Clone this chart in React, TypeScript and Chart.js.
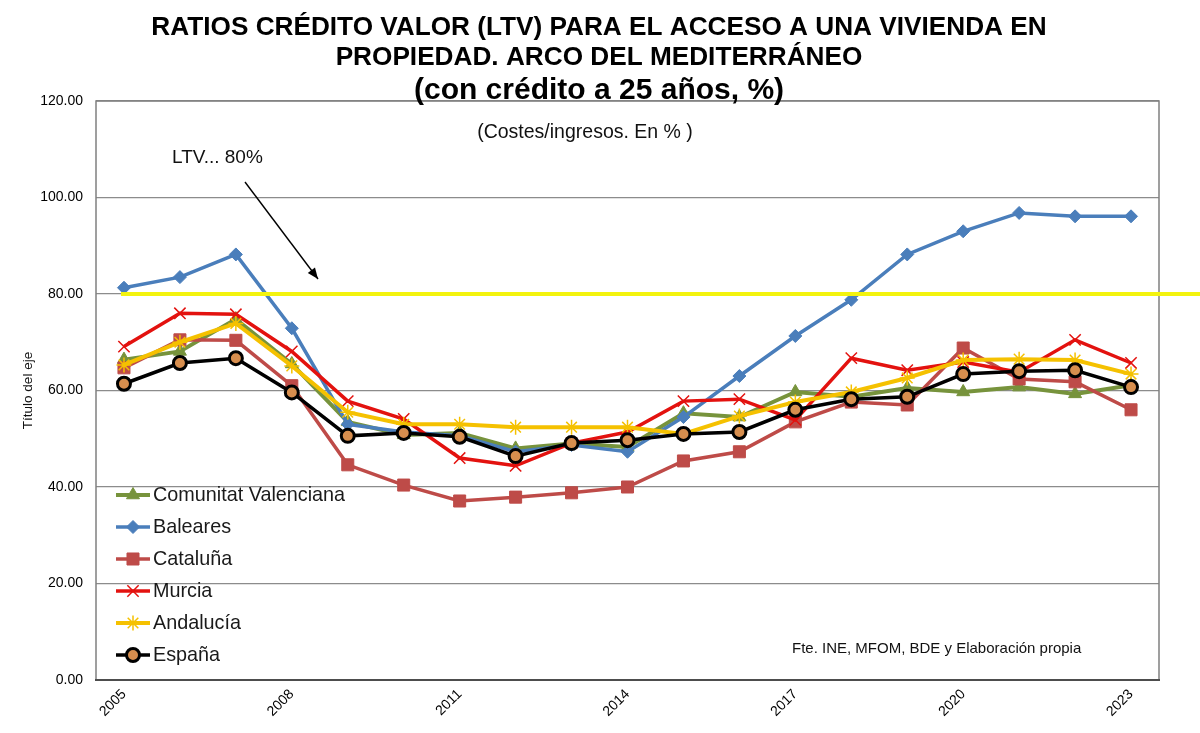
import React, { useEffect, useRef } from 'react';
import { Chart, registerables } from 'chart.js';
import { drawPoint } from 'chart.js/helpers';

Chart.register(...registerables);

const FONT = "'Liberation Sans', Arial, sans-serif";

const YEARS = ['2005', '2006', '2007', '2008', '2009', '2010', '2011', '2012', '2013', '2014', '2015', '2016', '2017', '2018', '2019', '2020', '2021', '2022', '2023'];
const LABEL_EVERY = 3;

const COMUNITAT_VALENCIANA = [66.4, 68.1, 74.8, 65.5, 53.5, 50.8, 51.2, 48.0, 49.0, 48.3, 55.3, 54.5, 59.7, 58.7, 60.5, 59.7, 60.7, 59.3, 61.1];
const BALEARES = [81.3, 83.5, 88.2, 72.9, 53.0, 51.4, 50.6, 47.3, 48.7, 47.3, 54.5, 63.0, 71.3, 78.8, 88.2, 93.0, 96.8, 96.1, 96.1];
const CATALUNA = [64.7, 70.5, 70.4, 61.0, 44.6, 40.4, 37.1, 37.9, 38.8, 40.0, 45.4, 47.3, 53.5, 57.6, 57.0, 68.8, 62.4, 61.8, 56.0];
const MURCIA = [69.1, 76.0, 75.8, 68.1, 57.8, 54.1, 46.0, 44.4, 49.1, 51.4, 57.8, 58.2, 53.9, 66.7, 64.2, 65.9, 63.8, 70.5, 65.7];
const ANDALUCIA = [65.3, 70.0, 73.9, 65.1, 55.5, 53.0, 53.0, 52.4, 52.4, 52.4, 51.0, 54.7, 57.6, 59.7, 62.6, 66.3, 66.5, 66.3, 63.4];
const ESPANA = [61.4, 65.7, 66.7, 59.6, 50.6, 51.2, 50.4, 46.4, 49.1, 49.7, 51.0, 51.4, 56.0, 58.2, 58.7, 63.4, 64.0, 64.2, 60.7];

const LTV_LIMIT = 80;

const Y_MIN = 0;
const Y_MAX = 120;
const Y_STEP = 20;

const TITLE_LINES = [
  'RATIOS CRÉDITO VALOR (LTV) PARA EL ACCESO A UNA VIVIENDA EN',
  'PROPIEDAD. ARCO DEL MEDITERRÁNEO',
  '(con crédito a 25 años, %)',
];
const SUBTITLE = '(Costes/ingresos. En % )';
const LTV_NOTE = 'LTV... 80%';
const SOURCE = 'Fte. INE, MFOM, BDE y Elaboración propia';
const Y_TITLE = 'Título del eje';

const SERIES = [
  { label: 'Comunitat Valenciana', data: COMUNITAT_VALENCIANA, color: '#77933C', fill: '#77933C', width: 4, pointStyle: 'triangle', radius: 7.5, pointBorderWidth: 1 },
  { label: 'Baleares', data: BALEARES, color: '#4A7EBB', fill: '#4A7EBB', width: 3.5, pointStyle: 'rectRot', radius: 6.5, pointBorderWidth: 1 },
  { label: 'Cataluña', data: CATALUNA, color: '#BE4B48', fill: '#BE4B48', width: 3.5, pointStyle: 'rect', radius: 8.5, pointBorderWidth: 1 },
  { label: 'Murcia', data: MURCIA, color: '#E3120F', fill: '#E3120F', width: 3.5, pointStyle: 'crossRot', radius: 8, pointBorderWidth: 1.5 },
  { label: 'Andalucía', data: ANDALUCIA, color: '#F5C100', fill: '#F5C100', width: 4, pointStyle: 'star', radius: 7.5, pointBorderWidth: 1.5 },
  { label: 'España', data: ESPANA, color: '#000000', fill: '#D78E4E', width: 3.5, pointStyle: 'circle', radius: 6.5, pointBorderWidth: 3 },
];

const overlayPlugin = {
  id: 'overlay',
  beforeDatasetsDraw(chart: any) {
    const { ctx, chartArea: a } = chart;
    ctx.save();
    ctx.strokeStyle = '#808080';
    ctx.lineWidth = 1.5;
    ctx.beginPath();
    ctx.moveTo(a.left, a.bottom);
    ctx.lineTo(a.left, a.top);
    ctx.lineTo(a.right, a.top);
    ctx.lineTo(a.right, a.bottom);
    ctx.stroke();
    ctx.strokeStyle = '#4d4d4d';
    ctx.lineWidth = 2;
    ctx.beginPath();
    ctx.moveTo(a.left - 1, a.bottom);
    ctx.lineTo(a.right + 1, a.bottom);
    ctx.stroke();
    ctx.restore();
  },
  afterDatasetsDraw(chart: any) {
    const { ctx, scales } = chart;
    const yPix = scales.y.getPixelForValue(LTV_LIMIT);
    const xStart = scales.x.getPixelForValue(0) - 3;
    ctx.save();
    ctx.strokeStyle = '#F3F30E';
    ctx.lineWidth = 4;
    ctx.beginPath();
    ctx.moveTo(xStart, yPix);
    ctx.lineTo(chart.width, yPix);
    ctx.stroke();
    ctx.restore();
  },
  afterDraw(chart: any) {
    const { ctx, chartArea: a } = chart;
    const cx = chart.width / 2 - 1;
    ctx.save();
    ctx.fillStyle = '#000';
    ctx.textAlign = 'center';
    ctx.textBaseline = 'middle';
    ctx.font = `bold 26.2px ${FONT}`;
    ctx.fillText(TITLE_LINES[0], cx, 28);
    ctx.fillText(TITLE_LINES[1], cx, 58);
    ctx.font = `bold 30px ${FONT}`;
    ctx.fillText(TITLE_LINES[2], cx, 91);

    ctx.fillStyle = '#111';
    ctx.font = `19.5px ${FONT}`;
    ctx.fillText(SUBTITLE, 585, 133);

    ctx.textAlign = 'left';
    ctx.font = `19px ${FONT}`;
    ctx.fillText(LTV_NOTE, 172, 158);

    // arrow
    const x1 = 245, y1 = 182, x2 = 318, y2 = 279;
    ctx.strokeStyle = '#000';
    ctx.lineWidth = 1.4;
    ctx.beginPath();
    ctx.moveTo(x1, y1);
    ctx.lineTo(x2, y2);
    ctx.stroke();
    const ang = Math.atan2(y2 - y1, x2 - x1);
    const hl = 11, hw = 4.5;
    ctx.beginPath();
    ctx.moveTo(x2, y2);
    ctx.lineTo(x2 - hl * Math.cos(ang) + hw * Math.sin(ang), y2 - hl * Math.sin(ang) - hw * Math.cos(ang));
    ctx.lineTo(x2 - hl * Math.cos(ang) - hw * Math.sin(ang), y2 - hl * Math.sin(ang) + hw * Math.cos(ang));
    ctx.closePath();
    ctx.fillStyle = '#000';
    ctx.fill();

    // source
    ctx.fillStyle = '#111';
    ctx.font = `15px ${FONT}`;
    ctx.textAlign = 'left';
    ctx.fillText(SOURCE, 792, 649);

    // y title
    ctx.save();
    ctx.translate(28, (a.top + a.bottom) / 2);
    ctx.rotate(-Math.PI / 2);
    ctx.textAlign = 'center';
    ctx.font = `13.5px ${FONT}`;
    ctx.fillStyle = '#111';
    ctx.fillText(Y_TITLE, 0, 0);
    ctx.restore();

    // legend
    const n = SERIES.length;
    SERIES.forEach((s, i) => {
      const yy = a.bottom - 25 - (n - 1 - i) * 32;
      const lx = a.left + 20;
      ctx.strokeStyle = s.color;
      ctx.lineWidth = s.width;
      ctx.beginPath();
      ctx.moveTo(lx, yy);
      ctx.lineTo(lx + 34, yy);
      ctx.stroke();
      ctx.fillStyle = s.fill;
      ctx.strokeStyle = s.color;
      ctx.lineWidth = s.pointBorderWidth;
      drawPoint(ctx, { pointStyle: s.pointStyle, radius: s.radius, rotation: 0, borderWidth: s.pointBorderWidth } as any, lx + 17, yy);
      ctx.fillStyle = '#1a1a1a';
      ctx.font = `19.8px ${FONT}`;
      ctx.textAlign = 'left';
      ctx.textBaseline = 'middle';
      ctx.fillText(s.label, lx + 37, yy + 1);
    });
    ctx.restore();
  },
};

export default function App() {
  const canvasRef = useRef<HTMLCanvasElement | null>(null);

  useEffect(() => {
    if (!canvasRef.current) return;
    const n = SERIES.length;
    const chart = new Chart(canvasRef.current, {
      type: 'line',
      data: {
        labels: YEARS,
        datasets: SERIES.map((s, i) => ({
          label: s.label,
          data: s.data,
          borderColor: s.color,
          backgroundColor: s.fill,
          borderWidth: s.width,
          pointStyle: s.pointStyle as any,
          pointRadius: s.radius,
          pointBackgroundColor: s.fill,
          pointBorderColor: s.color,
          pointBorderWidth: s.pointBorderWidth,
          tension: 0,
          fill: false,
          order: n - i,
        })),
      },
      options: {
        responsive: true,
        maintainAspectRatio: false,
        animation: false,
        layout: { padding: { top: 101, right: 41, bottom: 0, left: 0 } },
        plugins: {
          legend: { display: false },
          title: { display: false },
          tooltip: { enabled: false },
        },
        scales: {
          x: {
            type: 'category',
            offset: true,
            grid: { display: false, drawTicks: false },
            border: { display: false },
            ticks: {
              autoSkip: false,
              maxRotation: 45,
              minRotation: 45,
              padding: 6,
              color: '#000',
              font: { family: FONT, size: 14 },
              callback: (_v: any, i: number) => (i % LABEL_EVERY === 0 ? YEARS[i] : ''),
            },
            afterFit: (scale: any) => { scale.height = 53; },
          },
          y: {
            min: Y_MIN,
            max: Y_MAX,
            grid: { color: '#8c8c8c', lineWidth: 1.2, drawTicks: false },
            border: { display: false },
            ticks: {
              stepSize: Y_STEP,
              padding: 13,
              color: '#000',
              font: { family: FONT, size: 14 },
              callback: (v: any) => Number(v).toFixed(2),
            },
            afterFit: (scale: any) => { scale.width = 96; },
          },
        },
      },
      plugins: [overlayPlugin],
    });
    return () => chart.destroy();
  }, []);

  return (
    <div style={{ position: 'absolute', left: 0, top: 0, width: 1200, height: 733, background: '#fff' }}>
      <canvas ref={canvasRef} />
    </div>
  );
}
